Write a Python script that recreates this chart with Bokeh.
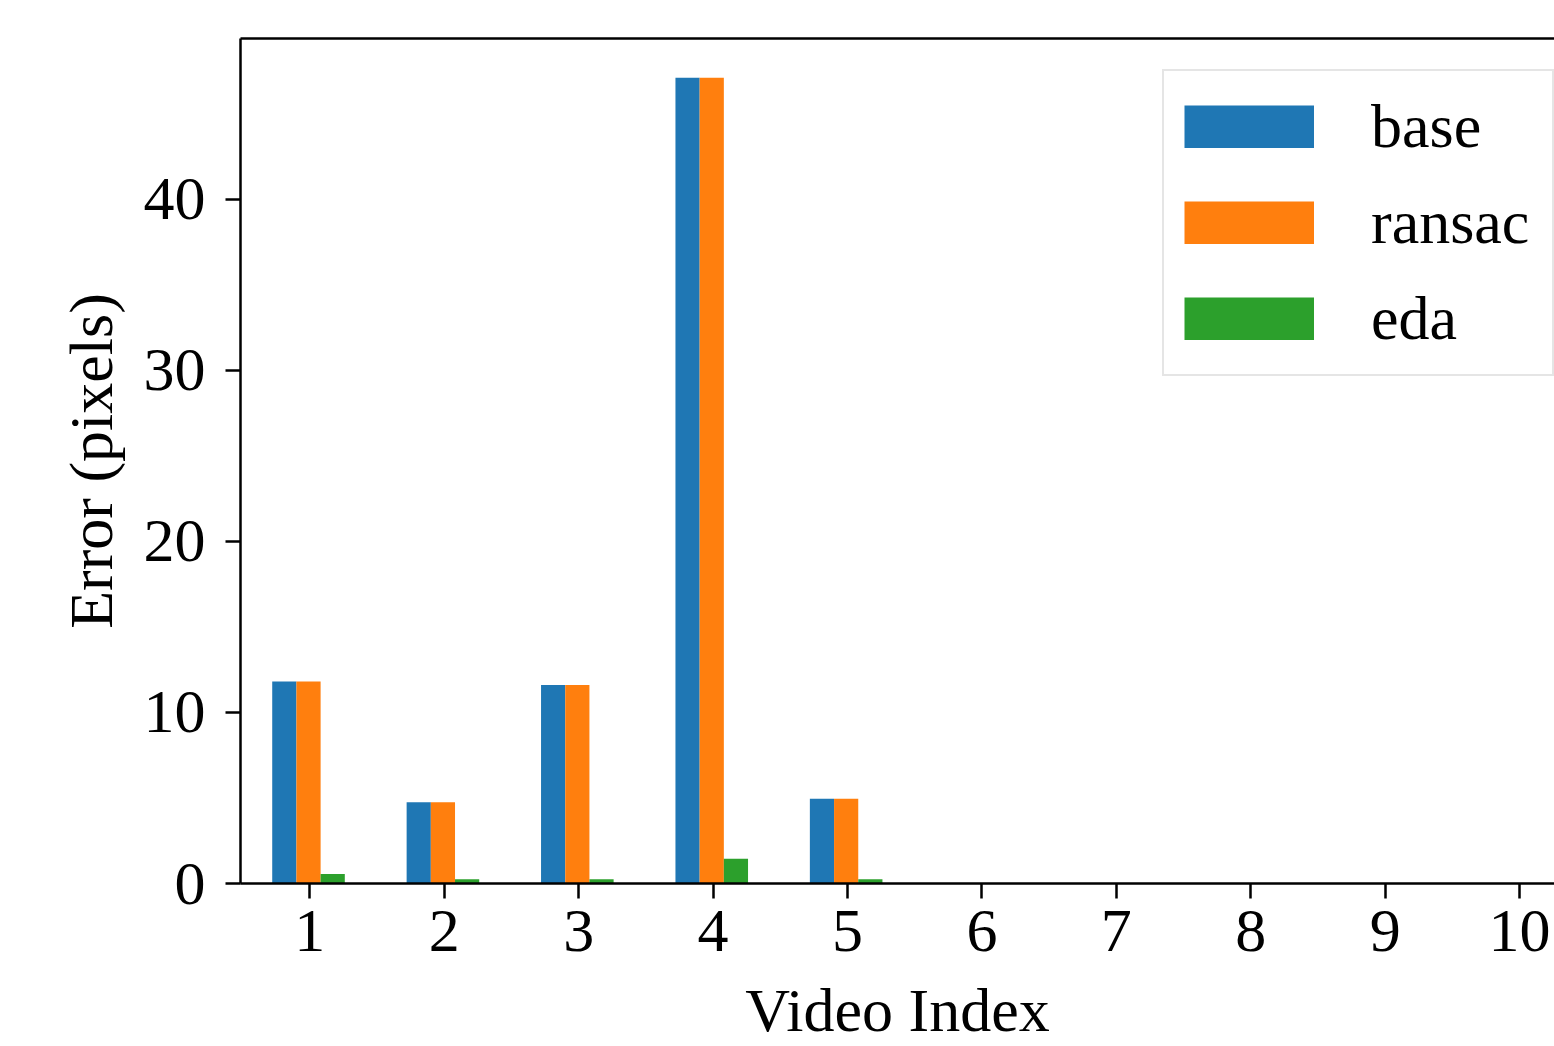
import numpy as np
from bokeh.plotting import figure
from bokeh.models import Range1d, FixedTicker, LinearAxis, ColumnDataSource, Legend, LegendItem
from bokeh.transform import dodge
from bokeh.embed import file_html
from bokeh.resources import INLINE

# ---- data ----
video_index = [1, 2, 3, 4, 5]
base = [11.8, 4.75, 11.6, 47.1, 4.95]
ransac = [11.8, 4.75, 11.6, 47.1, 4.95]
eda = [0.55, 0.25, 0.25, 1.45, 0.25]
x_ticks = [1, 2, 3, 4, 5, 6, 7, 8, 9, 10]
y_ticks = [0, 10, 20, 30, 40]
series_names = ["base", "ransac", "eda"]
colors = ["#1f77b4", "#ff7f0e", "#2ca02c"]

FONT = "Liberation Serif"
FS = "62px"

src = ColumnDataSource(dict(x=video_index, base=base, ransac=ransac, eda=eda))

p = figure(width=1554, height=1046, output_backend="svg", toolbar_location=None,
           x_range=Range1d(0.484, 10.26), y_range=Range1d(0, 49.39),
           min_border_left=240, min_border_right=0, min_border_top=38,
           min_border_bottom=162)
p.outline_line_color = None
p.xgrid.visible = False
p.ygrid.visible = False
p.background_fill_color = "white"
p.border_fill_color = "white"

offsets = [-0.19, -0.01, 0.17]
items = []
for name, col, off in zip(series_names, colors, offsets):
    p.vbar(x=dodge("x", off, range=p.x_range), top=name, width=0.18, bottom=0,
           source=src, fill_color=col, line_color=None)
    # legend swatch: a thick butt-capped line (no visible data) gives a full-size rectangle
    swatch = p.line(x=np.array([np.nan]), y=np.array([np.nan]), line_color=col,
                    line_width=43, line_cap="butt")
    items.append(LegendItem(label=name, renderers=[swatch]))

for ax in (p.xaxis[0], p.yaxis[0]):
    ax.axis_line_color = "black"
    ax.axis_line_width = 2.5
    ax.major_tick_line_color = "black"
    ax.major_tick_line_width = 2.5
    ax.major_tick_out = 15
    ax.major_tick_in = 0
    ax.minor_tick_line_color = None
    ax.major_label_text_font = FONT
    ax.major_label_text_font_size = FS
    ax.major_label_text_color = "black"
    ax.axis_label_text_font = FONT
    ax.axis_label_text_font_size = FS
    ax.axis_label_text_font_style = "normal"
    ax.axis_label_text_color = "black"

p.xaxis.ticker = FixedTicker(ticks=x_ticks)
p.yaxis.ticker = FixedTicker(ticks=y_ticks)
p.xaxis.axis_label = "Video Index"
p.yaxis.axis_label = "Error (pixels)"
p.xaxis.major_label_standoff = 12
p.xaxis.axis_label_standoff = 22
p.yaxis.major_label_standoff = 20
p.yaxis.axis_label_standoff = 16

top_axis = LinearAxis(ticker=FixedTicker(ticks=[]), major_label_text_font_size="0px",
                      axis_line_color="black", axis_line_width=2.5,
                      major_tick_line_color=None, minor_tick_line_color=None)
p.add_layout(top_axis, "above")

lg = Legend(items=items, location=(922, 507))
lg.label_text_font = FONT
lg.label_text_font_size = FS
lg.label_text_color = "black"
lg.glyph_width = 130
lg.glyph_height = 43
lg.label_standoff = 57
lg.label_width = 161
lg.padding = 20
lg.spacing = 25
lg.margin = 0
lg.border_line_color = "#cccccc"
lg.border_line_width = 2
lg.background_fill_color = "white"
lg.background_fill_alpha = 0.8
p.add_layout(lg)

open("out.html", "w").write(file_html(p, INLINE))
